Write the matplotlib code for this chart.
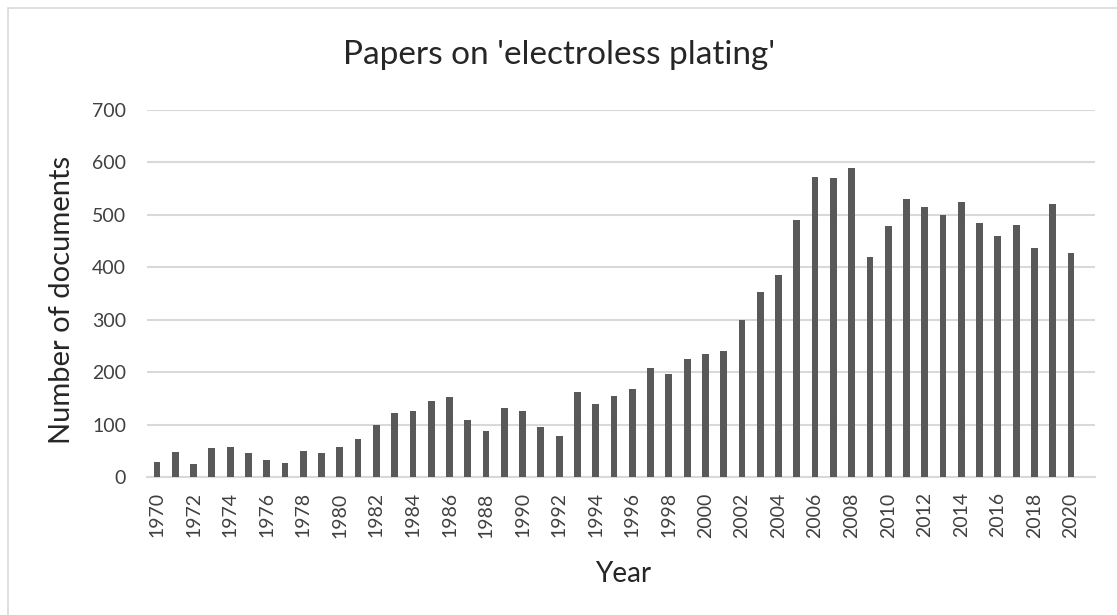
import matplotlib
matplotlib.use("Agg")
import matplotlib.pyplot as plt
from matplotlib.patches import Rectangle

years = list(range(1970, 2021))
documents = [28, 47, 25, 55, 57, 45, 32, 26, 50, 45,
             58, 72, 100, 123, 125, 145, 152, 108, 88, 131,
             125, 96, 78, 163, 140, 155, 167, 208, 197, 225,
             234, 241, 300, 352, 386, 490, 573, 570, 589, 420,
             478, 530, 515, 500, 525, 484, 460, 480, 436, 521,
             427]
tick_years = years[::2]
title = "Papers on 'electroless plating'"

plt.rcParams['font.family'] = ['Lato', 'DejaVu Sans']

W, H = 1117, 615
fig = plt.figure(figsize=(W / 100, H / 100), dpi=100)
fig.patch.set_facecolor('white')
fig.patches.append(Rectangle((8 / W, -0.1), 1.2, 1.1 - 8 / H,
                             transform=fig.transFigure, fill=False,
                             edgecolor='#d9d9d9', linewidth=1.2))

ax = fig.add_axes([147 / W, 1 - 477 / H, (1095 - 147) / W, (477 - 110) / H])
ax.bar(years, documents, width=0.37, color='#595959', zorder=3)
ax.set_ylim(0, 700)
ax.set_xlim(1970 - 10 / 18.28, 1970 + (1095 - 157) / 18.28)
ax.set_yticks(range(0, 701, 100))
ax.set_xticks(tick_years)
ax.set_xticklabels([str(y) for y in tick_years], rotation=90, fontsize=14, color='#404040')
ax.tick_params(axis='y', labelsize=14, labelcolor='#404040', length=0, pad=15)
ax.tick_params(axis='x', length=0, pad=11)
ax.grid(axis='y', color='#d9d9d9', linewidth=1.5, zorder=0)
for s in ['top', 'right', 'left']:
    ax.spines[s].set_visible(False)
ax.spines['bottom'].set_color('#d9d9d9')
ax.spines['bottom'].set_linewidth(1.5)

fig.text(75 / W, 1 - 300 / H, 'Number of documents', rotation=90, ha='right', va='center',
         fontsize=21, color='#262626')
fig.text(623 / W, 1 - 582 / H, 'Year', ha='center', va='baseline', fontsize=20, color='#262626')
fig.text(559 / W, 1 - 64 / H, title, ha='center', va='baseline', fontsize=24, color='#262626')

fig.savefig('out.png', dpi=100)
